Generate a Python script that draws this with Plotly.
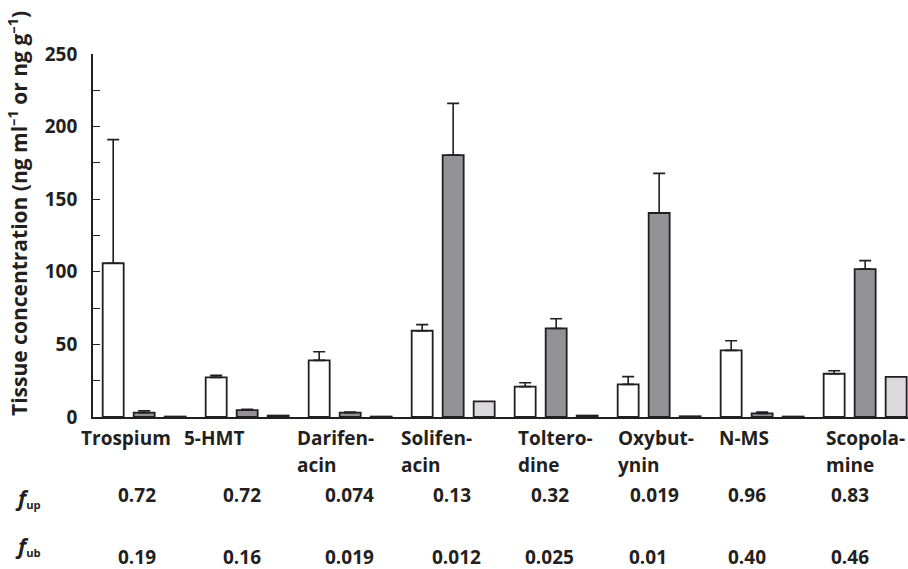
import plotly.graph_objects as go

# Drug names (line breaks as typeset under the axis)
drugs = ["Trospium", "5-HMT", "Darifen-\nacin", "Solifen-\nacin",
         "Toltero-\ndine", "Oxybut-\nynin", "N-MS", "Scopola-\nmine"]

# Tissue concentrations (ng ml-1 or ng g-1), mean and upper SD end
plasma_mean = [105.9, 27.3, 39.0, 59.4, 20.9, 22.5, 45.9, 29.8]
plasma_top = [191.0, 28.7, 44.9, 63.6, 23.6, 27.8, 52.5, 31.9]
tissue_mean = [3.0, 4.8, 3.0, 180.4, 61.0, 140.5, 2.5, 101.9]
tissue_top = [4.3, 5.3, 3.4, 216.0, 67.7, 167.8, 3.4, 107.7]
third_mean = [0.3, 1.0, 0.3, 10.8, 1.0, 0.5, 0.3, 27.7]

# Unbound fractions
fup = ["0.72", "0.72", "0.074", "0.13", "0.32", "0.019", "0.96", "0.83"]
fub = ["0.19", "0.16", "0.019", "0.012", "0.025", "0.01", "0.40", "0.46"]

x_idx = list(range(len(drugs)))
ink = "#231f20"
FONT = "Open Sans"
FS = 19

# plot area in pixels
L, R, T, B = 93, 908, 54, 417
W, H = 908, 569


def xp(px):
    return (px - L) / (R - L)


def yp(py):
    return (B - py) / (B - T)


fig = go.Figure()
fig.add_trace(go.Bar(
    x=x_idx, y=plasma_mean, marker=dict(color="white", line=dict(color=ink, width=1.8)),
    error_y=dict(type="data", symmetric=False,
                 array=[t - m for t, m in zip(plasma_top, plasma_mean)],
                 arrayminus=[0] * len(drugs), color=ink, thickness=1.6, width=6),
))
fig.add_trace(go.Bar(
    x=x_idx, y=tissue_mean, marker=dict(color="#939397", line=dict(color=ink, width=1.8)),
    error_y=dict(type="data", symmetric=False,
                 array=[t - m for t, m in zip(tissue_top, tissue_mean)],
                 arrayminus=[0] * len(drugs), color=ink, thickness=1.6, width=6),
))
fig.add_trace(go.Bar(
    x=x_idx, y=third_mean, marker=dict(color="#dadadc", line=dict(color=ink, width=1.8)),
))

ann = []
# y-axis title
ann.append(dict(
    text="Tissue concentration (ng ml<sup>–1</sup> or ng g<sup>–1</sup>)",
    xref="paper", yref="paper", x=xp(17), y=yp(214), textangle=-90,
    xanchor="center", yanchor="middle", showarrow=False,
    font=dict(family=FONT, size=21, color=ink, weight="bold"),
))

# drug labels, left edges in pixels
label_left = [79, 182, 295, 399, 516, 616, 717, 824]
for name, lx in zip(drugs, label_left):
    for k, line in enumerate(name.split("\n")):
        ann.append(dict(
            text=line, xref="paper", yref="paper", x=xp(lx), y=yp(438 + 27 * k),
            xanchor="left", yanchor="middle", showarrow=False,
            font=dict(family=FONT, size=FS, color=ink, weight="bold"),
        ))

# fraction rows
up_center = [137, 242, 349, 452, 550, 654, 747, 850]
ub_center = [137, 242, 349, 456, 549, 648, 747, 850]
for v, cx in zip(fup, up_center):
    ann.append(dict(text=v, xref="paper", yref="paper", x=xp(cx), y=yp(495),
                    xanchor="center", yanchor="middle", showarrow=False,
                    font=dict(family=FONT, size=FS, color=ink, weight="bold")))
for v, cx in zip(fub, ub_center):
    ann.append(dict(text=v, xref="paper", yref="paper", x=xp(cx), y=yp(557),
                    xanchor="center", yanchor="middle", showarrow=False,
                    font=dict(family=FONT, size=FS, color=ink, weight="bold")))

for sub, py in (("up", 497), ("ub", 545)):
    ann.append(dict(text="<i>f</i><span style='font-size:16px'><sub>%s</sub></span>" % sub,
                    xref="paper", yref="paper",
                    x=xp(13), y=yp(py), xanchor="left", yanchor="middle", showarrow=False,
                    font=dict(family=FONT, size=22, color=ink, weight="bold")))

fig.update_layout(
    width=W, height=H,
    margin=dict(l=L, r=W - R, t=T, b=H - B, pad=0),
    paper_bgcolor="white", plot_bgcolor="white",
    barmode="group", bargap=0.097, bargroupgap=0.323,
    showlegend=False,
    annotations=ann,
    xaxis=dict(range=[-0.497, 7.416], showticklabels=False, ticks="",
               showgrid=False, zeroline=False, showline=True,
               linecolor=ink, linewidth=1.8),
    yaxis=dict(range=[0, 250], tickvals=[0, 50, 100, 150, 200, 250],
               ticks="inside", ticklen=7, tickwidth=1.3, tickcolor=ink,
               minor=dict(tickvals=[25, 75, 125, 175, 225], ticks="inside",
                          ticklen=7, tickwidth=1.3, tickcolor=ink),
               showgrid=False, zeroline=False, showline=True,
               linecolor=ink, linewidth=1.8, ticklabelstandoff=10,
               tickfont=dict(family=FONT, size=FS, color=ink, weight="bold")),
)

fig.write_html("out.html")
